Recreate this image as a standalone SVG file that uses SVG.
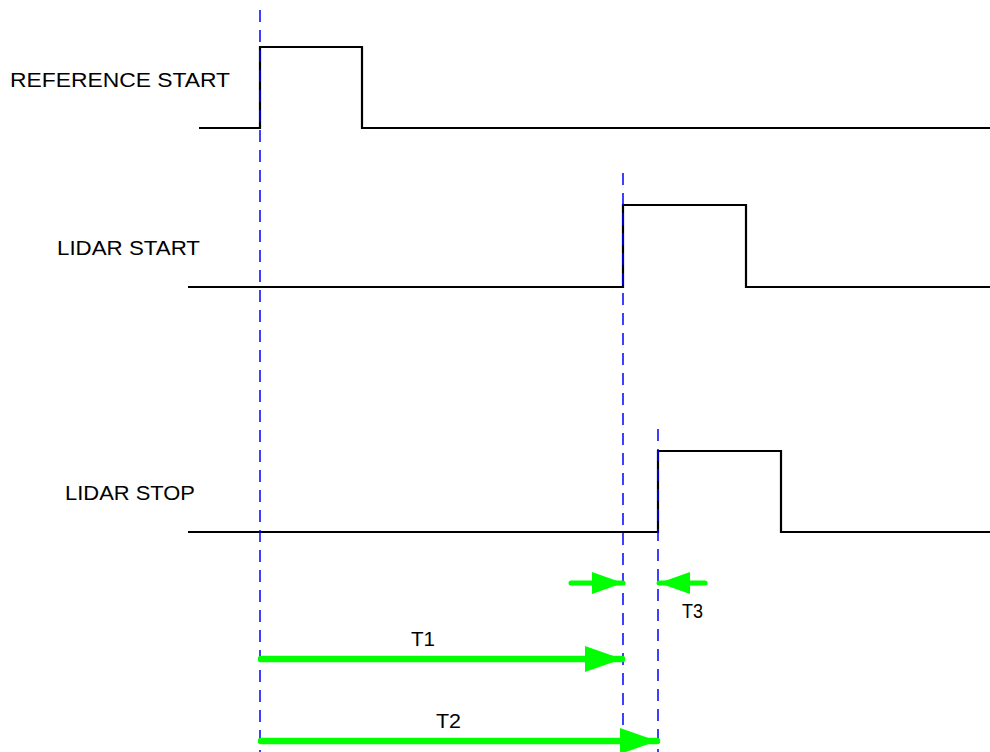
<svg xmlns="http://www.w3.org/2000/svg" width="990" height="752" viewBox="0 0 990 752">
<style>
.sig{fill:none;stroke:#000;stroke-width:2.2}
.guide{fill:none;stroke:#0000ff;stroke-width:1.5;stroke-dasharray:12 8}
.big{fill:none;stroke:#00ff00;stroke-width:6.5;stroke-linecap:round}
.small{fill:none;stroke:#00ff00;stroke-width:5;stroke-linecap:round}
text{font-family:"Liberation Sans",Arial,sans-serif;font-size:20px;fill:#000}
</style>
<defs>
<marker id="headBig" markerUnits="userSpaceOnUse" markerWidth="38" markerHeight="26" refX="37" refY="13" orient="auto">
<path d="M0,0 L37,13 L0,26 Z" fill="#00ff00"/>
</marker>
<marker id="headSmall" markerUnits="userSpaceOnUse" markerWidth="32" markerHeight="22" refX="31" refY="11" orient="auto">
<path d="M0,0 L31,11 L0,22 Z" fill="#00ff00"/>
</marker>
</defs>
<rect width="990" height="752" fill="#fff"/>
<g id="reference-start">
<text x="10" y="87" textLength="220" lengthAdjust="spacingAndGlyphs">REFERENCE START</text>
<path class="sig" d="M199,128 H260 V47 H362 V128 H990"/>
</g>
<g id="lidar-start">
<text x="57" y="255" textLength="143" lengthAdjust="spacingAndGlyphs">LIDAR START</text>
<path class="sig" d="M188,287 H623 V205 H746 V287 H990"/>
</g>
<g id="lidar-stop">
<text x="65" y="500" textLength="130" lengthAdjust="spacingAndGlyphs">LIDAR STOP</text>
<path class="sig" d="M188,532 H658 V451 H781 V532 H990"/>
</g>
<g id="guides">
<line class="guide" x1="260" y1="10" x2="260" y2="752"/>
<line class="guide" x1="623" y1="173" x2="623" y2="752"/>
<line class="guide" x1="658" y1="429" x2="658" y2="752"/>
</g>
<g id="connectors">
<line class="small" x1="571" y1="583" x2="623" y2="583" marker-end="url(#headSmall)"/>
<line class="small" x1="705" y1="583" x2="659" y2="583" marker-end="url(#headSmall)"/>
<line class="big" x1="261" y1="659" x2="622" y2="659" marker-end="url(#headBig)"/>
<line class="big" x1="261" y1="741" x2="657" y2="741" marker-end="url(#headBig)"/>
</g>
<g id="labels">
<text x="682" y="618" textLength="21" lengthAdjust="spacingAndGlyphs">T3</text>
<text x="411" y="646" textLength="24" lengthAdjust="spacingAndGlyphs">T1</text>
<text x="436" y="728" textLength="25" lengthAdjust="spacingAndGlyphs">T2</text>
</g>
</svg>
